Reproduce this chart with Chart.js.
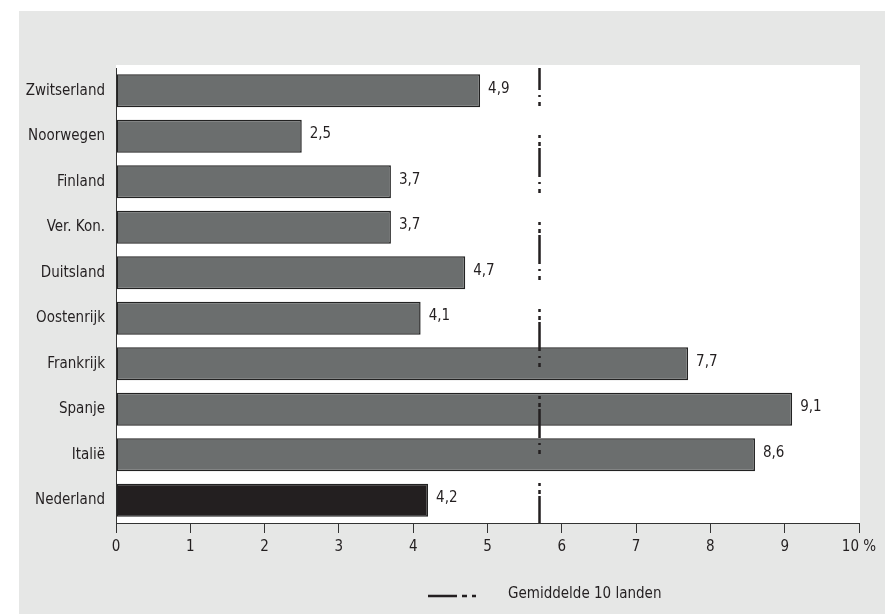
<!DOCTYPE html>
<html>
<head>
<meta charset="utf-8">
<script src="https://cdn.jsdelivr.net/npm/chart.js@4/dist/chart.umd.min.js"></script>
<style>
    html, body { margin: 0; padding: 0; background: #fff; }
    #wrap { width: 885px; height: 614px; position: relative; }
</style>
</head>
<body>
<div id="wrap"><canvas id="chart" width="885" height="614"></canvas></div>
<script>
const countries = ['Zwitserland', 'Noorwegen', 'Finland', 'Ver. Kon.', 'Duitsland',
    'Oostenrijk', 'Frankrijk', 'Spanje', 'Italië', 'Nederland'];
const shares = [4.9, 2.5, 3.7, 3.7, 4.7, 4.1, 7.7, 9.1, 8.6, 4.2];
const average = 5.7;
const averageLabel = 'Gemiddelde 10 landen';
const xTicks = [0, 1, 2, 3, 4, 5, 6, 7, 8, 9, 10];

const FONT = '"Liberation Sans Narrow", "DejaVu Sans Condensed", sans-serif';
const SIZE = 15;
const TEXT = '#231f20';

document.addEventListener('DOMContentLoaded', () => {
    const ctx = document.getElementById('chart').getContext('2d');

    const background = {
        id: 'background',
        beforeDraw: (chart) => {
            const c = chart.ctx;
            const a = chart.chartArea;
            c.save();
            c.fillStyle = '#ffffff';
            c.fillRect(0, 0, chart.width, chart.height);
            c.fillStyle = '#e6e7e6';
            c.fillRect(19, 11, chart.width - 19, chart.height - 11);
            c.fillStyle = '#ffffff';
            c.fillRect(a.left, a.top - 3, a.right - a.left + 1, a.bottom - a.top + 3);
            c.restore();
        }
    };

    const averageLine = {
        id: 'averageLine',
        afterDatasetsDraw: (chart) => {
            const c = chart.ctx;
            const a = chart.chartArea;
            const x = chart.scales.x.getPixelForValue(average);
            c.save();
            c.strokeStyle = TEXT;
            c.lineWidth = 2.5;
            c.setLineDash([29, 5, 2, 5, 4, 29, 3, 4, 4, 2]);
            c.lineDashOffset = 7;
            c.beginPath();
            c.moveTo(x, a.top);
            c.lineTo(x, a.bottom);
            c.stroke();
            c.restore();
        }
    };

    const valueLabels = {
        id: 'valueLabels',
        afterDatasetsDraw: (chart) => {
            const c = chart.ctx;
            const meta = chart.getDatasetMeta(0);
            c.save();
            c.fillStyle = TEXT;
            c.font = SIZE + 'px ' + FONT;
            c.textAlign = 'left';
            c.textBaseline = 'middle';
            meta.data.forEach((bar, i) => {
                const txt = String(shares[i]).replace('.', ',');
                c.fillText(txt, bar.x + 8, bar.y - 2);
            });
            c.restore();
        }
    };

    const legendLine = {
        id: 'legendLine',
        afterDraw: (chart) => {
            const c = chart.ctx;
            const y = 596;
            c.save();
            c.strokeStyle = TEXT;
            c.lineWidth = 2.5;
            c.beginPath();
            c.moveTo(428, y); c.lineTo(457, y);
            c.moveTo(462, y); c.lineTo(467, y);
            c.moveTo(472, y); c.lineTo(476, y);
            c.stroke();
            c.fillStyle = TEXT;
            c.font = SIZE + 'px ' + FONT;
            c.textAlign = 'left';
            c.textBaseline = 'middle';
            c.fillText(averageLabel, 508, 594);
            c.restore();
        }
    };

    new Chart(ctx, {
        type: 'bar',
        data: {
            labels: countries,
            datasets: [{
                label: 'Aandeel',
                data: shares,
                backgroundColor: countries.map(c => c === 'Nederland' ? '#231f20' : '#6b6e6e'),
                borderColor: '#222222',
                borderWidth: 1.5,
                borderSkipped: false,
                barPercentage: 0.73,
                categoryPercentage: 1
            }]
        },
        options: {
            indexAxis: 'y',
            responsive: false,
            animation: false,
            layout: { padding: { top: 68, right: 26, bottom: 51, left: 0 } },
            plugins: {
                legend: { display: false },
                tooltip: { enabled: false }
            },
            scales: {
                x: {
                    min: 0,
                    max: 10,
                    afterBuildTicks: (scale) => { scale.ticks = xTicks.map(v => ({ value: v })); },
                    afterFit: (scale) => { scale.height = 40; },
                    ticks: {
                        color: TEXT,
                        font: { family: FONT, size: SIZE },
                        padding: 5,
                        maxRotation: 0,
                        callback: (v) => v === 10 ? '10 %' : String(v)
                    },
                    grid: {
                        drawOnChartArea: false,
                        drawTicks: true,
                        tickLength: 10,
                        color: '#333333',
                        lineWidth: 1
                    },
                    border: { display: true, color: '#333333', width: 1 }
                },
                y: {
                    afterFit: (scale) => { scale.width = 116; },
                    ticks: {
                        color: TEXT,
                        font: { family: FONT, size: SIZE },
                        padding: 11
                    },
                    grid: { drawOnChartArea: false, drawTicks: false },
                    border: { display: true, color: '#333333', width: 1 }
                }
            }
        },
        plugins: [background, averageLine, valueLabels, legendLine]
    });
});
</script>
</body>
</html>
